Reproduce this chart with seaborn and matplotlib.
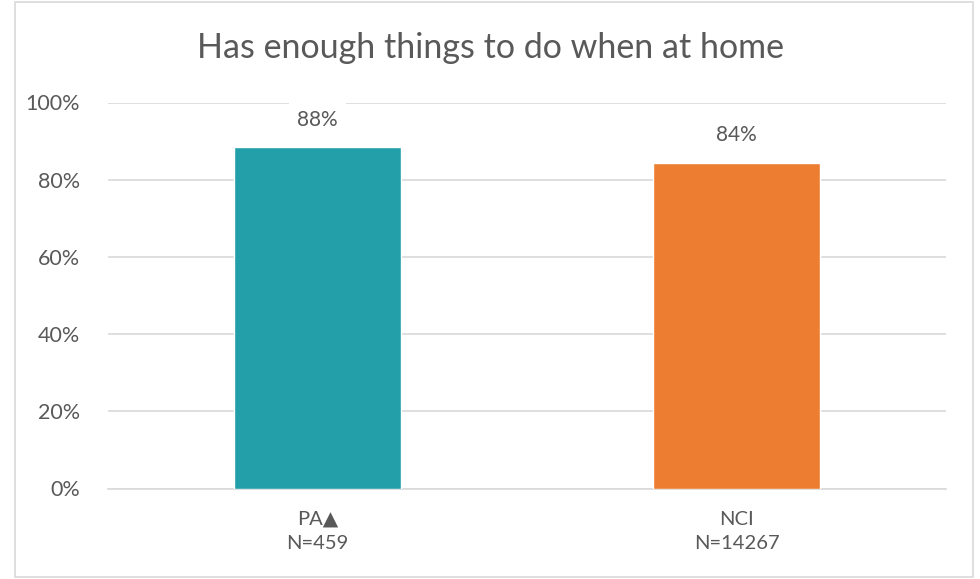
import matplotlib
matplotlib.use("Agg")
import matplotlib.pyplot as plt
import seaborn as sns
import pandas as pd
from matplotlib.patches import Rectangle

# Data
groups = ["PA▲\nN=459", "NCI\nN=14267"]
values = [0.884, 0.844]
colors = ["#229FA8", "#ED7D31"]
title = "Has enough things to do when at home"

sns.set_theme(style="white")
plt.rcParams["font.family"] = ["Lato", "DejaVu Sans"]
TXT = "#595959"

df = pd.DataFrame({"group": groups, "value": values})

fig = plt.figure(figsize=(9.8, 5.79), dpi=100)
ax = fig.add_axes([108 / 980, 1 - 488.5 / 579, (946 - 108) / 980, 386 / 579])

sns.barplot(data=df, x="group", y="value", hue="group", palette=colors,
            width=0.4, legend=False, ax=ax, zorder=3, saturation=1)

ax.set_ylim(0, 1)
ax.set_yticks([0, 0.2, 0.4, 0.6, 0.8, 1.0])
ax.set_yticklabels([f"{int(round(t*100))}%" for t in ax.get_yticks()])
ax.grid(axis="y", color="#D9D9D9", linewidth=1.2, zorder=0)
for s in ["top", "right", "left"]:
    ax.spines[s].set_visible(False)
ax.spines["bottom"].set_color("#D9D9D9")
ax.spines["bottom"].set_linewidth(1.2)
ax.tick_params(axis="x", length=0, labelsize=14.5, colors=TXT, pad=16)
ax.tick_params(axis="y", length=0, labelsize=15.5, colors=TXT, pad=20)
for lab in ax.get_xticklabels():
    lab.set_linespacing(1.55)
ax.set_xlabel("")
ax.set_ylabel("")

for i, v in enumerate(values):
    ax.text(i, v + 0.045, f"{v*100:.0f}%", ha="center", va="bottom",
            fontsize=15, color=TXT, zorder=4,
            bbox=dict(facecolor="white", edgecolor="none", pad=6))

fig.text(0.5, 1 - 48 / 579, title, ha="center", va="center",
         fontsize=24.5, color=TXT)

fig.patches.append(Rectangle((15 / 980, 2 / 579), 958 / 980, 575 / 579,
                             transform=fig.transFigure, fill=False,
                             edgecolor="#D9D9D9", linewidth=1.2))

fig.savefig("out.png", dpi=100)
